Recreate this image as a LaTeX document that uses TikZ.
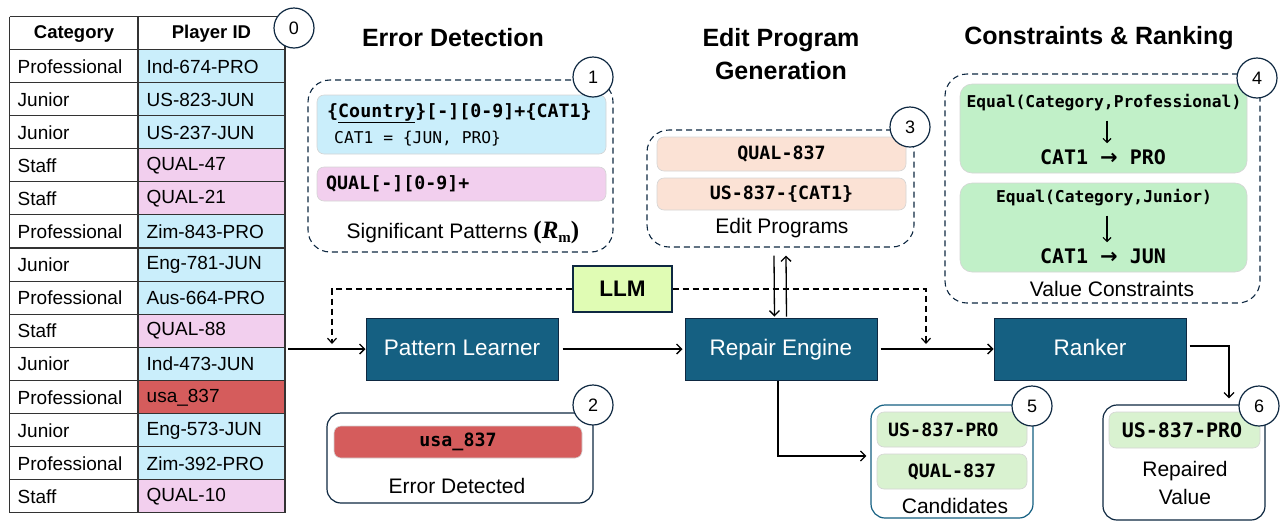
\documentclass[tikz,border=0pt]{standalone}
\usepackage{fontspec}
\setmainfont{Liberation Sans}
\setmonofont{DejaVu Sans Mono}
\newfontfamily\serifrm{Liberation Serif}
\newfontfamily\djsans{DejaVu Sans}
\usetikzlibrary{arrows.meta,calc}

\definecolor{navy}{HTML}{0E2841}
\definecolor{pteal}{HTML}{156082}
\definecolor{cellblue}{HTML}{CAEEFB}
\definecolor{cellpink}{HTML}{F2CFEE}
\definecolor{cellred}{HTML}{D55C5C}
\definecolor{progorange}{HTML}{FBE2D5}
\definecolor{consgreen}{HTML}{C1F0C8}
\definecolor{candgreen}{HTML}{D9F2D0}
\definecolor{llmgreen}{HTML}{E0FCB4}
\definecolor{gridgray}{HTML}{333333}
\definecolor{chipline}{HTML}{D4D4D4}

\newcommand{\fs}[1]{\fontsize{#1}{#1}\selectfont}
\newcommand{\bigarrow}{{\djsans\bfseries\fs{21}→}}

\tikzset{
  celltext/.style={anchor=west, inner sep=0pt, font=\fs{19}},
  headtext/.style={inner sep=0pt, font=\fs{18.5}\bfseries},
  titletext/.style={inner sep=0pt, align=center, font=\fs{25}\bfseries},
  dashbox/.style={draw=navy, line width=1.1pt, dash pattern=on 6pt off 4pt, rounded corners=22pt, inner sep=0pt},
  solidbox/.style={draw=navy, line width=1.2pt, rounded corners=14pt, fill=white, inner sep=0pt},
  chip/.style={draw=chipline, line width=0.6pt, rounded corners=7pt, inner sep=0pt},
  monob/.style={inner sep=0pt, font=\fs{18.3}\ttfamily\bfseries},
  monosmall/.style={inner sep=0pt, font=\fs{16.3}\ttfamily},
  captxt/.style={inner sep=0pt, font=\fs{21}},
  tealbox/.style={draw=navy, line width=1pt, fill=pteal, text=white, font=\fs{22.5},
                  minimum width=192pt, minimum height=62pt, inner sep=0pt,
                  text height=16pt, text depth=4pt},
  numcirc/.style={circle, draw=navy, line width=1.2pt, fill=white, minimum size=40pt,
                  inner sep=0pt, font=\fs{18}},
  flow/.style={draw=black, line width=1.3pt, -{Straight Barb[length=5pt,width=10pt]}},
  llmflow/.style={draw=black, line width=1.2pt, dash pattern=on 6pt off 4pt,
                  -{Straight Barb[length=5pt,width=9pt]}},
}

\begin{document}
\begin{tikzpicture}[x=1pt,y=-1pt]
\useasboundingbox (0,0) rectangle (1288,523);

% ---------------- input table ----------------
\foreach \cat/\pid/\col [count=\i] in {
  Professional/Ind-674-PRO/cellblue,
  Junior/US-823-JUN/cellblue,
  Junior/US-237-JUN/cellblue,
  Staff/QUAL-47/cellpink,
  Staff/QUAL-21/cellpink,
  Professional/Zim-843-PRO/cellblue,
  Junior/Eng-781-JUN/cellblue,
  Professional/Aus-664-PRO/cellblue,
  Staff/QUAL-88/cellpink,
  Junior/Ind-473-JUN/cellblue,
  Professional/usa\_837/cellred,
  Junior/Eng-573-JUN/cellblue,
  Professional/Zim-392-PRO/cellblue,
  Staff/QUAL-10/cellpink}{
  \pgfmathsetmacro\yt{16.5+33.07*\i}
  \fill[\col] (138,\yt) rectangle (285,{\yt+33.07});
  \node[celltext] (cat\i) at (17.5,{\yt+17}) {\cat};
  \node[celltext] (pid\i) at (146.5,{\yt+17}) {\pid};
}
\foreach \k in {0,...,15}{
  \draw[gridgray, line width=1.1pt] (9.5,{16.5+33.07*\k}) -- (285,{16.5+33.07*\k});
}
\draw[gridgray, line width=1.1pt] (9.5,16.5) -- (9.5,512.5);
\draw[gridgray, line width=1.1pt] (138,16.5) -- (138,512.5);
\draw[gridgray, line width=1.1pt] (285,16.5) -- (285,512.5);
\node[headtext] (hcat) at (74,34) {Category};
\node[headtext] (hpid) at (211.5,34) {Player ID};
\node[numcirc] (n0) at (294,28) {0};

% ---------------- column titles ----------------
\node[titletext] (t1) at (453,38) {Error Detection};
\node[titletext] (t2) at (781,54) {Edit Program\\[8pt]Generation};
\node[titletext] (t3) at (1099,38) {Constraints \& Ranking};

% ---------------- significant patterns ----------------
\node[dashbox, minimum width=305pt, minimum height=172pt] (b1) at (460.5,166) {};
\node[chip, fill=cellblue, minimum width=289pt, minimum height=59pt] (p1) at (461.5,124.5) {};
\node[monob, anchor=west] (p1a) at (327,113) {\{\underline{Country}\}[-][0-9]+\{CAT1\}};
\node[monosmall, anchor=west] (p1b) at (334,139) {CAT1 = \{JUN, PRO\}};
\node[chip, fill=cellpink, minimum width=289pt, minimum height=34pt] (p2) at (461.5,184) {};
\node[monob, anchor=west] (p2a) at (326,184) {QUAL[-][0-9]+};
\node[captxt] (c1) at (463,232) {Significant Patterns {\serifrm\bfseries\fs{25}(\textit{R}{\fs{15}\raisebox{-4pt}{m}})}};
\node[numcirc] (n1) at (593,77) {1};

% ---------------- edit programs ----------------
\node[dashbox, minimum width=267pt, minimum height=117pt] (b3) at (780.5,188.5) {};
\node[chip, fill=progorange, minimum width=249pt, minimum height=34pt] (e1) at (781.5,154) {};
\node[monob] (e1t) at (781.5,154) {QUAL-837};
\node[chip, fill=progorange, minimum width=249pt, minimum height=32pt] (e2) at (781.5,194) {};
\node[monob] (e2t) at (781.5,194) {US-837-\{CAT1\}};
\node[captxt] (c3) at (782,228) {Edit Programs};
\node[numcirc] (n3) at (910,127) {3};

% ---------------- value constraints ----------------
\node[dashbox, minimum width=315pt, minimum height=229pt] (b4) at (1102.5,188.5) {};
\node[chip, fill=consgreen, minimum width=287pt, minimum height=89pt, rounded corners=12pt] (g1) at (1103.5,128.5) {};
\node[monosmall, font=\fs{16.3}\ttfamily\bfseries] (g1a) at (1104,103) {Equal(Category,Professional)};
\node[monob, font=\fs{20}\ttfamily\bfseries] (g1b) at (1103,157) {CAT1 \bigarrow{} PRO};
\node[chip, fill=consgreen, minimum width=287pt, minimum height=89pt, rounded corners=12pt] (g2) at (1103.5,227.5) {};
\node[monosmall, font=\fs{16.3}\ttfamily\bfseries] (g2a) at (1104,198) {Equal(Category,Junior)};
\node[monob, font=\fs{20}\ttfamily\bfseries] (g2b) at (1103,256) {CAT1 \bigarrow{} JUN};
\draw[line width=1.1pt, -{Straight Barb[length=4pt,width=8pt]}] ([xshift=3pt,yshift=-9pt]g1a.south) -- ([xshift=4pt,yshift=6pt]g1b.north);
\draw[line width=1.1pt, -{Straight Barb[length=4pt,width=8pt]}] ([xshift=3pt,yshift=-9pt]g2a.south) -- ([xshift=4pt,yshift=6pt]g2b.north);
\node[captxt] (c4) at (1112,289) {Value Constraints};
\node[numcirc] (n4) at (1257,78) {4};

% ---------------- pipeline ----------------
\node[tealbox] (pl) at (462,349) {Pattern Learner};
\node[tealbox] (re) at (781,349) {Repair Engine};
\node[tealbox] (rk) at (1090,349) {Ranker};
\node[draw=navy, line width=1.1pt, fill=llmgreen, minimum width=99pt, minimum height=46pt,
      inner sep=0pt, font=\fs{22.5}\bfseries] (llm) at (622.5,289) {LLM};

\coordinate (tblout) at (288,349);
\coordinate (llmL) at (332,344);
\coordinate (llmR) at (926,344);

\draw[flow] (tblout) -- (pl.west);
\draw[flow, shorten <=4pt, shorten >=2pt] (pl.east) -- (re.west);
\draw[flow, shorten <=3pt] (re.east) -- (rk.west);
\draw[llmflow] (llm.west) -| (llmL);
\draw[llmflow] (llm.east) -| (llmR);
\draw[flow, shorten >=1pt] ([xshift=-6.5pt,yshift=-8pt]b3.south) -- ([xshift=-6.5pt]re.north);
\draw[flow, shorten <=1pt] ([xshift=5.5pt]re.north) -- ([xshift=5.5pt,yshift=-8pt]b3.south);

% ---------------- error detected ----------------
\node[solidbox, minimum width=266pt, minimum height=90pt] (b2) at (460,458) {};
\node[chip, fill=cellred, minimum width=248pt, minimum height=32pt] (r1) at (458,442) {};
\node[monob] (r1t) at (458,442) {usa\_837};
\node[captxt] (c2) at (457,486) {Error Detected};
\node[numcirc] (n2) at (593,405) {2};

% ---------------- candidates ----------------
\node[solidbox, draw=pteal, minimum width=162pt, minimum height=113pt] (cand) at (952,461.5) {};
\node[chip, fill=candgreen, minimum width=150pt, minimum height=35pt] (k1) at (952,429.5) {};
\node[monob, anchor=west] (k1t) at (888,429.5) {US-837-PRO};
\node[chip, fill=candgreen, minimum width=150pt, minimum height=35pt] (k2) at (952,471.5) {};
\node[monob] (k2t) at (952,471.5) {QUAL-837};
\node[captxt] (c5) at (955,506) {Candidates};
\node[numcirc] (n5) at (1032,406) {5};

\draw[flow, shorten >=4pt] ([xshift=-3pt]re.south) |- ([yshift=5.5pt]cand.west);

% ---------------- repaired value ----------------
\node[solidbox, minimum width=162pt, minimum height=115pt] (rv) at (1184,462.5) {};
\node[chip, fill=candgreen, minimum width=151pt, minimum height=36pt] (v1) at (1184.5,430) {};
\node[monob, font=\fs{20}\ttfamily\bfseries] (v1t) at (1182,430) {US-837-PRO};
\node[captxt] (c6a) at (1185,471) {Repaired};
\node[captxt] (c6b) at (1185,497) {Value};

\draw[flow, shorten <=3pt, shorten >=6pt] ([yshift=3pt]rk.east) -| ([xshift=45pt]rv.north);
\node[numcirc] (n6) at (1259,406) {6};

\end{tikzpicture}
\end{document}
